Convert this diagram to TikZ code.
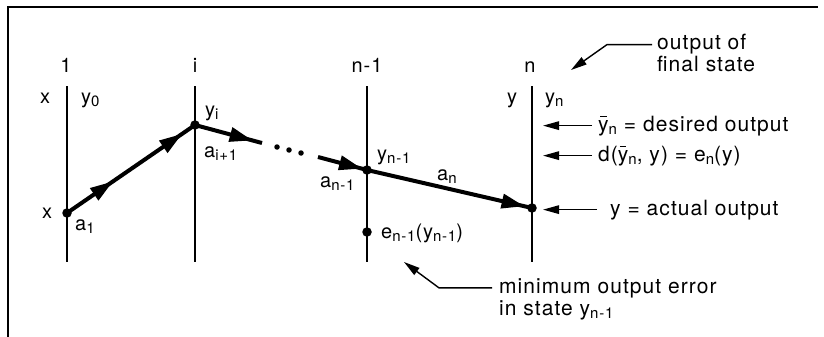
\documentclass[tikz,border=0pt]{standalone}
\usepackage{fontspec}
\setmainfont[LetterSpace=5]{TeX Gyre Heros}
\usetikzlibrary{arrows.meta,decorations.markings}
\newcommand\lo[1]{\raisebox{-3.8pt}{\fontsize{15}{15}\selectfont #1}}
\newcommand\ybar{\makebox[0pt][l]{\kern2pt\rule[14pt]{6.5pt}{1pt}}y}
\begin{document}
\begin{tikzpicture}[x=1pt,y=-1pt,
  lbl/.style={font=\fontsize{20}{22}\selectfont, inner sep=0pt, anchor=base},
  lblw/.style={lbl, anchor=base west},
  desc/.style={font=\fontsize{21}{23}\selectfont, inner sep=0pt, anchor=base west},
  stage/.style={line width=1.9pt},
  dot/.style={circle, fill, inner sep=0pt, minimum size=9.5pt},
  pathline/.style={line width=4pt},
  tinydot/.style={circle, fill, inner sep=0pt, minimum size=5.5pt},
  pointer/.style={line width=1.4pt, -{Triangle[length=16pt,width=8.5pt]}},
  bigtip/.tip={Triangle[length=23pt,width=14pt]}
]
\useasboundingbox (0,0) rectangle (824,337);
% frame
\coordinate (fb) at (8,337);
\coordinate (fc) at (8,7);
\coordinate (fr) at (818,7);
\draw[line width=2.2pt] (fb) -- (fc) -- (fr);

% stage lines
\foreach \n/\x in {s1/67, si/195, sm/367, sn/532} {
  \coordinate (\n t) at (\x,86);
  \coordinate (\n b) at (\x,262);
  \draw[stage] (\n t) -- (\n b);
}

% points
\coordinate (p0) at (67,213);
\coordinate (pi) at (195,125);
\coordinate (c1) at (262,143);
\coordinate (c2) at (318,157);
\coordinate (pm) at (367,170);
\coordinate (pn) at (532,208);
\coordinate (pe) at (367,232);

% trajectory
\draw[pathline, postaction={decorate}, decoration={markings,
  mark=at position 0.36 with {\arrow{bigtip}},
  mark=at position 0.9 with {\arrow{bigtip}}}] (p0) -- (pi);
\draw[pathline, postaction={decorate}, decoration={markings,
  mark=at position 0.86 with {\arrow{bigtip}}}] (pi) -- (c1);
\draw[pathline, postaction={decorate}, decoration={markings,
  mark=at position 0.9 with {\arrow{bigtip}}}] (c2) -- (pm);
\draw[pathline, postaction={decorate}, decoration={markings,
  mark=at position 0.955 with {\arrow{bigtip}}}] (pm) -- (pn);

\node[tinydot] (d1) at (277,147) {};
\node[tinydot] (d2) at (289,150) {};
\node[tinydot] (d3) at (301,153) {};

\node[dot] (P0) at (p0) {};
\node[dot] (Pi) at (pi) {};
\node[dot] (Pm) at (pm) {};
\node[dot] (Pn) at (pn) {};
\node[dot] (Pe) at (pe) {};

% labels
\node[lbl] (t1) at (66,72) {1};
\node[lbl] (ti) at (195,72) {i};
\node[lbl] (tm) at (367,72) {n-1};
\node[lbl] (tn) at (530,72) {n};
\node[lbl] (x0) at (45,103) {x};
\node[lblw] (y0) at (81,103) {y\lo{0}};
\node[lbl] (yy) at (512,103) {y};
\node[lblw] (yn) at (545,103) {y\lo{n}};
\node[lbl] (xp) at (47,218) {x};
\node[lblw] (a1) at (75,230) {a\lo{1}};
\node[lblw] (yi) at (205,116) {y\lo{i}};
\node[lblw] (ai) at (204,157) {a\lo{i+1}};
\node[lblw] (ym) at (377,160) {y\lo{n-1}};
\node[lblw] (am) at (320,187) {a\lo{n-1}};
\node[lblw] (an) at (437,180) {a\lo{n}};
\node[lblw] (el) at (381,238) {e\lo{n-1}(y\lo{n-1})};

% descriptions
\node[desc] (out1) at (657,50) {output of};
\node[desc] (out2) at (657,71) {final state};
\node[desc] (des) at (598,131) {\ybar\lo{n} = desired output};
\node[desc] (dist) at (598,161) {d(\ybar\lo{n}, y) = e\lo{n}(y)};
\node[desc] (act) at (610,215) {y = actual output};
\node[desc] (min1) at (499,293) {minimum output error};
\node[desc] (min2) at (499,315) {in state y\lo{n-1}};

% pointers
\coordinate (ob) at (612,41);
\coordinate (ot) at (571,70);
\draw[pointer] ([xshift=-5pt]out1.west) -- ([xshift=-5pt]out1.west -| ob) -- (ot);
\draw[pointer] ([xshift=-6pt]des.west) -- ([xshift=11pt]des.west -| snt);
\draw[pointer] ([xshift=-6pt]dist.west) -- ([xshift=11pt]dist.west -| snt);
\draw[pointer] ([xshift=-13pt]act.west) -- ([xshift=11pt]act.west -| snt);
\coordinate (mb) at (446,288);
\coordinate (mt) at (404,262);
\draw[pointer] ([xshift=-7pt]min1.west) -- ([xshift=-7pt]min1.west -| mb) -- (mt);
\end{tikzpicture}
\end{document}
